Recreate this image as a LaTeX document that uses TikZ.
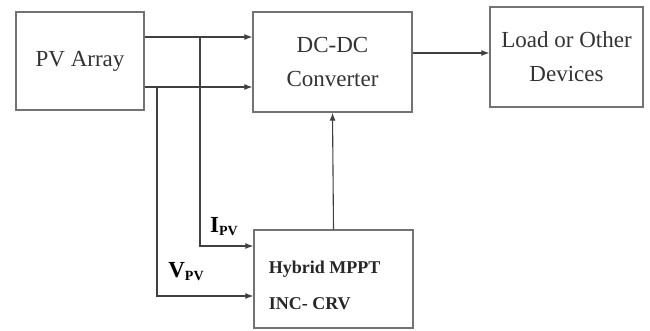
\documentclass[tikz,border=0pt]{standalone}
\usepackage{fontspec}
\setmainfont{Liberation Serif}
\usetikzlibrary{arrows.meta,positioning}

\tikzset{
  block/.style={draw=black!55, line width=1.3pt, rectangle, align=center, text=black!80},
  sig/.style={draw=black!75, line width=1.1pt, -{Latex[length=8pt,width=6pt]}}
}
\newcommand{\subpv}[1]{\textbf{#1}\raisebox{-3pt}{\fontsize{14}{14}\selectfont\textbf{PV}}}

\begin{document}
\begin{tikzpicture}[x=1pt, y=-1pt, every node/.style={font=\fontsize{23}{34}\selectfont}]
    \useasboundingbox (0,0) rectangle (650,330);
    \node (pv) [block, minimum width=128pt, minimum height=98pt] at (80,61) {PV Array};
    \node (conv) [block, minimum width=159pt, minimum height=100pt] at (332.5,62)
        {DC-DC\\Converter};
    \node (load) [block, minimum width=153pt, minimum height=100pt] at (566.5,57)
        {Load or Other\\Devices};
    \node (mppt) [block, minimum width=159pt, minimum height=98pt] at (333.5,279) {};
    \node (mpptlbl) [anchor=west, align=left, text=black!85,
        font=\fontsize{18}{36}\selectfont\bfseries]
        at ([xshift=12pt, yshift=-6pt]mppt.west) {Hybrid MPPT\\INC- CRV};
    % rows and columns of the wires
    \coordinate (iy) at (0,37);
    \coordinate (vy) at (0,87);
    \coordinate (oy) at (0,53);
    \coordinate (ix) at (200,0);
    \coordinate (vx) at (157,0);
    \coordinate (iy2) at (0,246);
    \coordinate (vy2) at (0,296);
    \draw[sig] (pv.east |- iy) -- (conv.west |- iy);
    \draw[sig] (pv.east |- vy) -- (conv.west |- vy);
    \draw[sig] (conv.east |- oy) -- (load.west |- oy);
    \draw[sig] (mppt.north) -- (conv.south);
    % sensed current and voltage
    \draw[sig] (ix |- iy) -- (ix |- iy2) -- (mppt.west |- iy2);
    \draw[sig] (vx |- vy) -- (vx |- vy2) -- (mppt.west |- vy2);
    \node (ipv) at (224,227) {\subpv{I}};
    \node (vpv) at (186,272) {\subpv{V}};
\end{tikzpicture}
\end{document}
